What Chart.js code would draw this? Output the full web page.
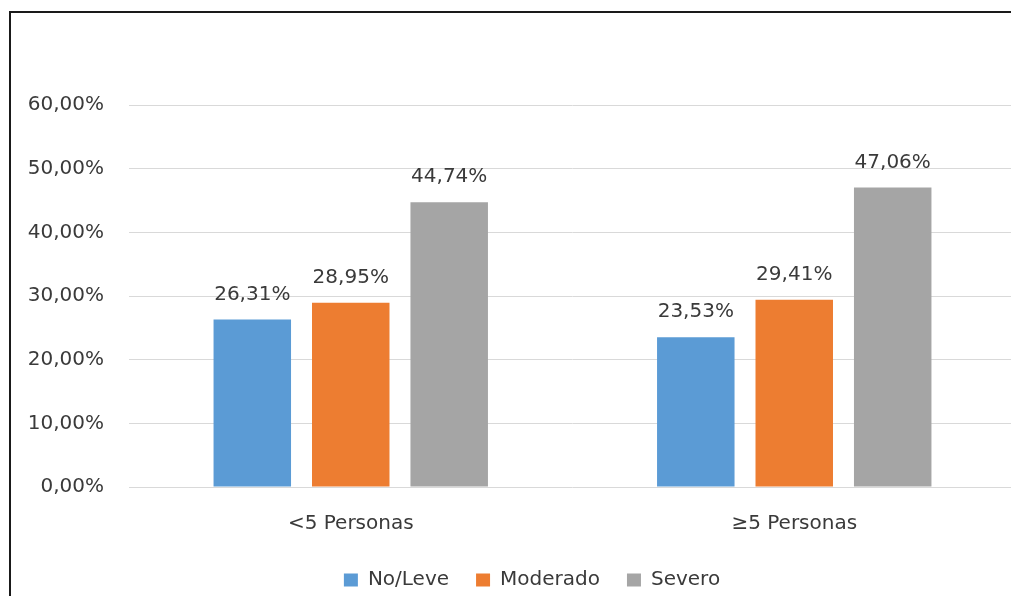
<!DOCTYPE html>
<html>
<head>
<meta charset="utf-8">
<script src="https://cdn.jsdelivr.net/npm/chart.js@4/dist/chart.umd.min.js"></script>
<style>
  html, body { margin: 0; padding: 0; background: #fff; overflow: hidden; width: 1011px; height: 596px; }
  #frame { position: absolute; left: 9px; top: 11px; width: 1100px; height: 700px; border: 2px solid #1a1a1a; box-sizing: border-box; }
  #wrap { position: absolute; left: 0; top: 0; width: 1016px; height: 600px; }
</style>
</head>
<body>
<div id="frame"></div>
<div id="wrap"><canvas id="c"></canvas></div>
<script>
const categories = ['<5 Personas', '\u22655 Personas'];
const seriesNames = ['No/Leve', 'Moderado', 'Severo'];
const noLeve = [26.31, 23.53];
const moderado = [28.95, 29.41];
const severo = [44.74, 47.06];
const seriesColors = ['#5B9BD5', '#ED7D31', '#A5A5A5'];
const yTicksMax = 60;
const yTickStep = 10;

const fmt = v => v.toFixed(2).replace('.', ',') + '%';
const textColor = '#3a3a3a';
const fontFamily = '"DejaVu Sans", sans-serif';

const dataLabels = {
  id: 'dataLabels',
  afterDatasetsDraw(chart) {
    const ctx = chart.ctx;
    ctx.save();
    ctx.font = '20px ' + fontFamily;
    ctx.fillStyle = textColor;
    ctx.textAlign = 'center';
    ctx.textBaseline = 'middle';
    chart.data.datasets.forEach((ds, i) => {
      const meta = chart.getDatasetMeta(i);
      meta.data.forEach((bar, j) => {
        ctx.fillText(fmt(ds.data[j]), bar.x, bar.y - 25);
      });
    });
    ctx.restore();
  }
};

// legend in the reference is centred on the (wider) outer frame, not the canvas
const legendShift = {
  id: 'legendShift',
  afterLayout(chart) {
    if (chart.legend) { chart.legend.left = 48; }
  }
};

const seriesData = [noLeve, moderado, severo];
new Chart(document.getElementById('c'), {
  type: 'bar',
  data: {
    labels: categories,
    datasets: seriesNames.map((n, i) => ({
      label: n,
      data: seriesData[i],
      backgroundColor: seriesColors[i],
      borderWidth: 0,
      categoryPercentage: 0.666,
      barPercentage: 0.787
    }))
  },
  options: {
    responsive: true,
    maintainAspectRatio: false,
    animation: false,
    layout: { padding: { top: 105, left: 0, right: 0, bottom: 0 } },
    plugins: {
      tooltip: { enabled: false },
      legend: {
        position: 'bottom',
        labels: {
          color: textColor,
          font: { family: fontFamily, size: 20 },
          boxWidth: 14,
          boxHeight: 13,
          padding: 27
        }
      }
    },
    scales: {
      x: {
        grid: { display: false, drawTicks: false },
        border: { display: false },
        ticks: { color: textColor, font: { family: fontFamily, size: 20 }, padding: 25, maxRotation: 0 },
        afterFit: s => { s.height = 56; }
      },
      y: {
        min: 0,
        max: yTicksMax,
        grid: { color: '#D9D9D9', lineWidth: 1, drawTicks: false },
        border: { display: false },
        ticks: {
          stepSize: yTickStep,
          color: textColor,
          font: { family: fontFamily, size: 20 },
          padding: 25,
          callback: v => fmt(v)
        },
        afterFit: s => { s.width = 129; }
      }
    }
  },
  plugins: [dataLabels, legendShift]
});
</script>
</body>
</html>
